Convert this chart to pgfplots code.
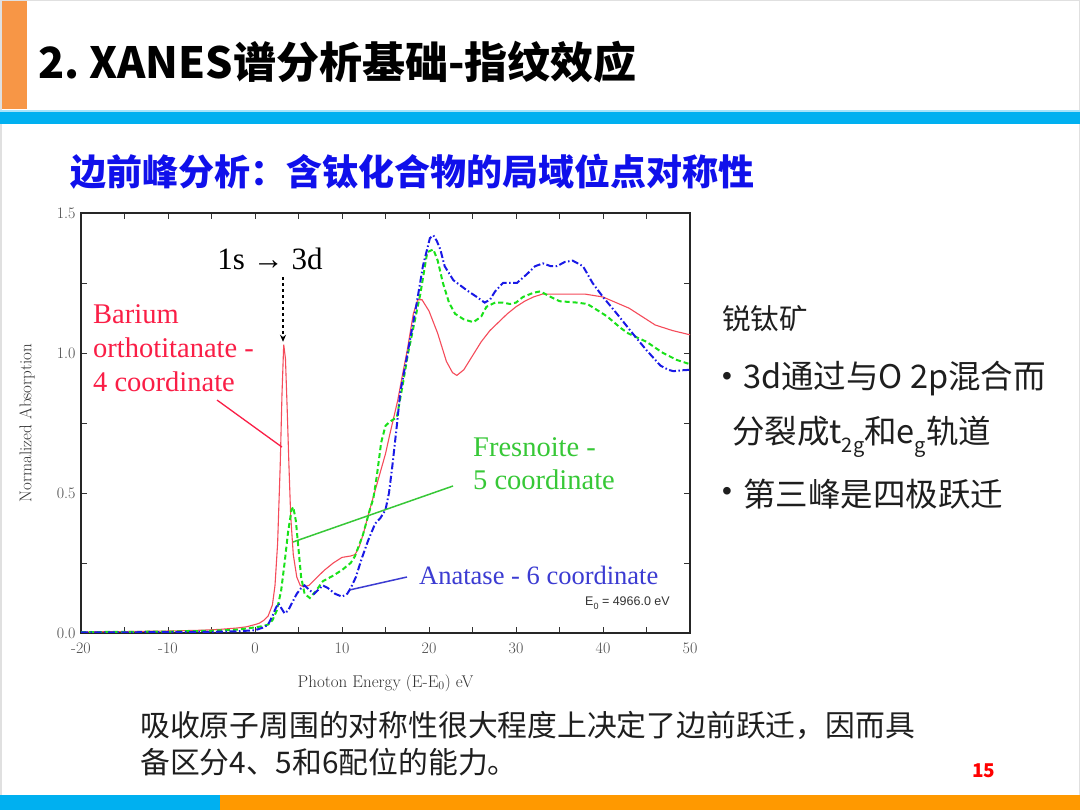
\documentclass[border=0pt]{standalone}
\usepackage{fontspec}
\usepackage{pgfplots}
\pgfplotsset{compat=1.18}
\usetikzlibrary{arrows.meta}
\newfontfamily\cjk{Noto Sans CJK SC}
\newfontfamily\tms{Liberation Serif}
\newfontfamily\arl{Liberation Sans}
\definecolor{topor}{RGB}{247,150,70}
\definecolor{cyanb}{RGB}{0,176,240}
\definecolor{botor}{RGB}{255,153,0}
\definecolor{subblue}{RGB}{16,16,235}
\definecolor{redc}{RGB}{245,75,90}
\definecolor{greenc}{RGB}{25,225,25}
\definecolor{bluec}{RGB}{25,25,230}
\definecolor{redt}{RGB}{250,30,70}
\definecolor{greent}{RGB}{55,200,55}
\definecolor{bluet}{RGB}{60,60,210}
\definecolor{txt}{RGB}{30,30,30}

\pgfplotstableread{
x y
-20 0.004
-15 0.005
-10 0.007
-6 0.01
-4 0.013
-2 0.018
-1 0.022
0 0.03
0.5 0.035
1 0.045
1.5 0.06
2 0.1
2.3 0.17
2.6 0.32
2.9 0.6
3.1 0.85
3.3 1.03
3.5 0.98
3.7 0.8
3.9 0.6
4.1 0.42
4.4 0.28
4.8 0.2
5.2 0.17
5.6 0.165
6.2 0.17
7 0.195
8 0.225
9 0.25
10 0.27
11 0.275
11.5 0.28
12 0.31
12.5 0.36
13 0.42
14 0.53
15 0.64
15.5 0.71
16.4 0.83
17 0.93
17.5 1.01
18.2 1.14
18.7 1.19
19.2 1.19
20 1.15
21 1.07
22 0.97
22.7 0.93
23.2 0.92
24 0.94
25 0.99
26 1.04
27 1.08
28 1.11
29 1.14
30 1.165
31 1.185
32 1.2
33 1.21
35 1.21
38 1.21
40 1.2
41.5 1.18
43 1.16
44.5 1.13
46 1.1
48 1.08
50 1.065
}\redtab

\pgfplotstableread{
x y
-20 0.003
-10 0.005
-5 0.008
-2 0.012
0 0.02
1 0.025
1.5 0.03
2 0.045
2.5 0.08
3 0.15
3.4 0.25
3.8 0.36
4.2 0.44
4.4 0.45
4.7 0.4
5 0.3
5.3 0.2
5.7 0.14
6.3 0.125
7 0.15
7.8 0.185
9 0.205
10 0.225
11 0.25
11.5 0.275
12.4 0.35
13.2 0.44
13.6 0.48
14 0.56
14.5 0.68
15 0.74
15.5 0.755
16.3 0.77
17 0.89
17.6 1.0
18.2 1.09
19 1.21
19.8 1.36
20.5 1.37
21 1.33
21.6 1.25
22.3 1.18
23 1.14
24 1.12
25.1 1.11
26 1.13
26.6 1.165
27.6 1.18
28.5 1.18
29.3 1.175
30 1.18
30.8 1.2
32 1.215
32.8 1.22
34 1.2
35 1.185
37 1.18
38.2 1.175
39.5 1.15
40.5 1.13
42 1.09
42.9 1.07
45 1.04
46.9 1.0
48.5 0.975
50 0.96
}\greentab

\pgfplotstableread{
x y
-20 0.002
-10 0.003
-5 0.004
-2 0.006
0 0.01
1 0.02
1.5 0.03
2 0.06
2.4 0.09
2.7 0.105
3.0 0.09
3.4 0.07
3.8 0.08
4.3 0.11
4.8 0.14
5.3 0.16
5.7 0.17
6.2 0.155
6.8 0.14
7.3 0.155
7.8 0.17
8.4 0.16
9.2 0.14
10 0.13
10.6 0.14
11 0.16
11.6 0.2
12.2 0.26
13 0.33
13.8 0.39
14.4 0.41
15.0 0.44
15.4 0.5
15.8 0.6
16.3 0.74
16.7 0.86
17.6 1.01
18.6 1.18
19.3 1.31
20.1 1.41
20.5 1.42
20.9 1.4
21.3 1.37
21.8 1.31
22.8 1.26
24.3 1.225
25.5 1.2
26.4 1.18
27 1.19
27.6 1.22
28.5 1.25
29.5 1.25
30.1 1.25
31.2 1.28
32.2 1.31
33.1 1.32
34 1.31
34.7 1.31
35.6 1.325
36.5 1.33
37.7 1.31
38.8 1.25
40 1.2
41.6 1.14
43.4 1.07
45 1.01
46.6 0.955
47.5 0.94
48.1 0.935
49 0.938
50 0.94
}\bluetab

\begin{document}
\begin{tikzpicture}[x=1pt,y=1pt]
\fill[white] (0,0) rectangle (1080,810);
\draw[black!12, line width=1.5pt] (0.75,0.75) rectangle (1079.25,809.25);
% top decorations
\fill[topor] (2,701) rectangle (27,809.25);
\fill[cyanb!35] (0,698) rectangle (1080,700);
\fill[cyanb] (0,686) rectangle (1080,698);
% bottom bars
\fill[cyanb] (0,0) rectangle (220,15);
\fill[botor] (220,0) rectangle (1080,15);
% title
\node[anchor=base west, inner sep=0pt, text=black] at (38,731)
  {\cjk\bfseries\fontsize{43}{43}\selectfont 2.\ XANES谱分析基础-指纹效应};
\node[anchor=west, inner sep=0pt, text=subblue] at (70,638)
  {\cjk\bfseries\fontsize{36}{36}\selectfont 边前峰分析：含钛化合物的局域位点对称性};
% right text
\node[anchor=west, inner sep=0pt, text=txt] at (722,491)
  {\cjk\fontsize{28.5}{28.5}\selectfont 锐钛矿};
\node[anchor=center, inner sep=0pt, text=txt] at (727,431)
  {\arl\fontsize{28}{28}\selectfont •};
\node[anchor=west, inner sep=0pt, text=txt] at (743,431)
  {\cjk\fontsize{32.5}{32.5}\selectfont 3d通过与O 2p混合而};
\node[anchor=west, inner sep=0pt, text=txt] at (732,373)
  {\cjk\fontsize{32.5}{32.5}\selectfont 分裂成t\raisebox{-0.28em}{\fontsize{20}{20}\selectfont 2g}和e\raisebox{-0.28em}{\fontsize{20}{20}\selectfont g}轨道};
\node[anchor=center, inner sep=0pt, text=txt] at (727,316)
  {\arl\fontsize{28}{28}\selectfont •};
\node[anchor=west, inner sep=0pt, text=txt] at (743,316)
  {\cjk\fontsize{32.5}{32.5}\selectfont 第三峰是四极跃迁};
% bottom text
\node[anchor=west, inner sep=0pt, text=txt] at (140,85)
  {\cjk\fontsize{29.8}{29.8}\selectfont 吸收原子周围的对称性很大程度上决定了边前跃迁，因而具};
\node[anchor=west, inner sep=0pt, text=txt] at (140,48)
  {\cjk\fontsize{29.8}{29.8}\selectfont 备区分4、5和6配位的能力。};
\node[anchor=west, inner sep=0pt, text=red] at (972,39)
  {\cjk\bfseries\fontsize{19}{19}\selectfont 15};

\begin{axis}[
  at={(81pt,177pt)}, anchor=south west, scale only axis,
  width=609pt, height=420pt,
  xmin=-20, xmax=50, ymin=0, ymax=1.5,
  xtick={-20,-10,...,50}, minor xtick={-15,-5,...,45},
  xticklabels={-20,-10,0,10,20,30,40,50},
  ytick={0,0.5,1,1.5}, minor ytick={0.25,0.75,1.25},
  yticklabels={0.0,0.5,1.0,1.5},
  xtick pos=both, ytick pos=both, tick align=inside,
  major tick length=6pt, minor tick length=6pt,
  every tick/.style={black!80, line width=0.9pt},
  axis line style={black!85, line width=1.8pt},
  tick label style={font=\fontsize{16}{16}\selectfont, text=black!70},
  xticklabel style={yshift=-6pt},
  yticklabel style={xshift=-2pt},
  xlabel={Photon Energy (E-E$_0$) eV}, ylabel={Normalized Absorption},
  label style={font=\fontsize{17}{17}\selectfont, text=black!80},
  xlabel style={at={(axis description cs:0.5,-0.119)}, anchor=center},
  ylabel style={at={(axis description cs:-0.0887,0.5)}, anchor=center},
]
\addplot[redc, line width=1.1pt] table[x=x,y=y] {\redtab};
\addplot[greenc, line width=2pt, dash pattern=on 5pt off 3pt] table[x=x,y=y] {\greentab};
\addplot[bluec, line width=2pt, dash pattern=on 7pt off 2.5pt on 1.5pt off 2.5pt] table[x=x,y=y] {\bluetab};
% leader lines
\draw[redt, line width=1.3pt] (axis cs:-4.37,0.832) -- (axis cs:3.1,0.664);
\draw[greent, line width=1.5pt] (axis cs:4.37,0.325) -- (axis cs:22.76,0.525);
\draw[bluet, line width=1.5pt] (axis cs:10.92,0.154) -- (axis cs:17.47,0.2);
\draw[black, line width=1.2pt, dashed, -{Stealth[length=7pt,width=6pt]}] (axis cs:3.22,1.271) -- (axis cs:3.22,1.04);
\end{axis}

% chart annotations
\node[anchor=base, inner sep=0pt] at (270,540) {\tms\fontsize{31}{31}\selectfont 1s → 3d};
\node[anchor=base west, inner sep=0pt, text=redt] at (93,486) {\tms\fontsize{28.5}{28.5}\selectfont Barium};
\node[anchor=base west, inner sep=0pt, text=redt] at (93,452) {\tms\fontsize{28.5}{28.5}\selectfont orthotitanate -};
\node[anchor=base west, inner sep=0pt, text=redt] at (93,418) {\tms\fontsize{28.5}{28.5}\selectfont 4 coordinate};
\node[anchor=base west, inner sep=0pt, text=greent] at (473,353) {\tms\fontsize{28.5}{28.5}\selectfont Fresnoite -};
\node[anchor=base west, inner sep=0pt, text=greent] at (473,320) {\tms\fontsize{28.5}{28.5}\selectfont 5 coordinate};
\node[anchor=base west, inner sep=0pt, text=bluet] at (419,225) {\tms\fontsize{26.5}{26.5}\selectfont Anatase - 6 coordinate};
\node[anchor=base west, inner sep=0pt, text=black!80] at (585,204) {\arl\fontsize{12.5}{12.5}\selectfont E\raisebox{-0.25em}{\fontsize{9}{9}\selectfont 0} = 4966.0 eV};
\end{tikzpicture}
\end{document}
